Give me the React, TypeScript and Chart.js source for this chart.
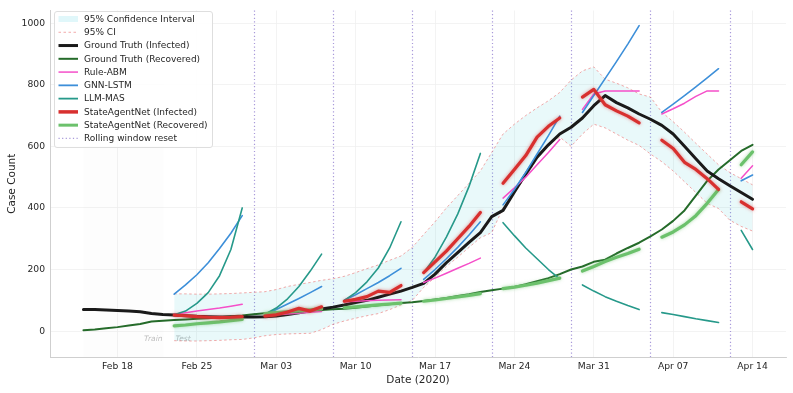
import { useEffect, useRef } from "react";
import { Chart, registerables } from "chart.js";

Chart.register(...registerables);

const FONT = "'DejaVu Sans', 'Liberation Sans', sans-serif";
const TEXT = "#262626";

// Day index 0 = Feb 15, 2020 ... 59 = Apr 14, 2020
const dayCount = 60;
const tickIndex = [3, 10, 17, 24, 31, 38, 45, 52, 59];
const tickLabels = ["Feb 18", "Feb 25", "Mar 03", "Mar 10", "Mar 17", "Mar 24", "Mar 31", "Apr 07", "Apr 14"];
const yTicks = [0, 200, 400, 600, 800, 1000];
const resetIndex = [15, 22, 29, 36, 43, 50, 57];
const windowStart = [8, 16, 23, 30, 37, 44, 51, 58];
const ciStart = 8;
const trainSpanEnd = 7.1;
const splitIndex = 7.5;

const gtInfected = [
  70, 70, 69, 67, 65, 63, 57, 54, 52, 50, 48, 47, 46, 46, 46, 46, 47, 49, 54, 60,
  66, 72, 78, 85, 93, 100, 110, 120, 130, 142, 155, 185, 222, 255, 288, 320, 372, 392, 452, 510,
  565, 605, 640, 662, 692, 732, 765, 742, 725, 705, 688, 668, 640, 600, 560, 520, 495, 472, 450, 428,
];

const gtRecovered = [
  3, 5, 9, 13, 18, 23, 31, 34, 36, 38, 40, 42, 45, 48, 51, 55, 58, 61, 63, 65,
  67, 69, 71, 73, 76, 80, 84, 87, 91, 94, 98, 103, 108, 114, 120, 127, 133, 138, 143, 152,
  162, 172, 185, 200, 210, 225, 232, 252, 270, 287, 308, 330, 358, 392, 440, 488, 525, 555, 585, 605,
];

const sanInfected = [
  [52, 50, 47, 45, 44, 45, 47],
  [49, 53, 62, 74, 65, 79],
  [97, 103, 112, 130, 126, 148],
  [190, 225, 260, 300, 340, 385],
  [480, 525, 570, 630, 665, 692],
  [760, 785, 735, 715, 698, 676],
  [620, 593, 548, 525, 495, 460],
  [420, 397],
];

const sanRecovered = [
  [17, 20, 24, 27, 30, 34, 38],
  [57, 60, 63, 66, 69, 72],
  [76, 79, 82, 85, 88, 91],
  [97, 101, 106, 111, 116, 122],
  [138, 143, 149, 156, 164, 172],
  [195, 210, 226, 240, 252, 266],
  [305, 322, 345, 375, 415, 460],
  [540, 582],
];

const ruleAbm = [
  [55, 60, 65, 70, 75, 81, 87],
  [50, 53, 56, 58, 61, 64],
  [95, 97, 99, 100, 101, 102],
  [158, 172, 188, 204, 220, 237],
  [432, 465, 500, 540, 580, 622],
  [720, 770, 780, 780, 780, 780],
  [705, 722, 740, 762, 780, 780],
  [496, 537],
];

const gnnLstm = [
  [120, 150, 183, 222, 268, 318, 375],
  [52, 70, 88, 106, 125, 145],
  [100, 118, 138, 158, 180, 204],
  [168, 200, 235, 272, 312, 355],
  [410, 460, 515, 575, 635, 698],
  [710, 765, 820, 875, 932, 992],
  [710, 737, 765, 793, 822, 852],
  [488, 507],
];

const llmMas = [
  [53, 65, 90, 125, 180, 265, 400],
  [55, 75, 105, 145, 195, 250],
  [100, 125, 160, 205, 270, 355],
  [190, 240, 305, 380, 470, 577],
  [352, 310, 270, 235, 200, 170],
  [150, 130, 112, 97, 83, 70],
  [60, 54, 47, 40, 34, 28],
  [327, 265],
];

const ciUpper = [
  121, 121, 120, 120, 121, 122, 124, 126, 128, 135, 145, 152, 158, 165, 170, 178, 190, 203, 215, 230,
  244, 272, 314, 355, 400, 440, 480, 520, 580, 640, 672, 700, 725, 748, 775, 815, 845, 858, 818, 805,
  790, 770, 760, 711, 680, 646, 610, 575, 540, 515, 495, 475,
];

const ciLower = [
  -31, -32, -32, -31, -30, -28, -27, -22, -15, -11, -9, -8, -7, 5, 22, 33, 42, 50, 57, 70,
  85, 100, 142, 175, 210, 240, 272, 303, 320, 400, 450, 500, 560, 605, 630, 600, 640, 672, 660, 640,
  620, 603, 575, 550, 520, 485, 450, 415, 398, 360, 340, 325,
];

const COLORS = {
  gtInf: "#1a1a1a",
  gtRec: "#256b2a",
  rule: "#f54fc9",
  gnn: "#3d8fd9",
  llm: "#26998a",
  sanInf: "#d8302f",
  sanRec: "#6cc16c",
  ciFill: "rgba(0, 190, 200, 0.085)",
  ciLine: "rgba(235, 125, 125, 0.65)",
  reset: "rgba(140, 120, 205, 0.75)",
};

const legendItems = [
  { label: "95% Confidence Interval", kind: "fill", color: "rgba(0, 190, 210, 0.12)", width: 0, dash: [] as number[] },
  { label: "95% CI", kind: "line", color: COLORS.ciLine, width: 1, dash: [2.5, 2.5] },
  { label: "Ground Truth (Infected)", kind: "line", color: COLORS.gtInf, width: 3, dash: [] },
  { label: "Ground Truth (Recovered)", kind: "line", color: COLORS.gtRec, width: 2, dash: [] },
  { label: "Rule-ABM", kind: "line", color: COLORS.rule, width: 1.5, dash: [] },
  { label: "GNN-LSTM", kind: "line", color: COLORS.gnn, width: 1.8, dash: [] },
  { label: "LLM-MAS", kind: "line", color: COLORS.llm, width: 1.8, dash: [] },
  { label: "StateAgentNet (Infected)", kind: "line", color: COLORS.sanInf, width: 3.5, dash: [] },
  { label: "StateAgentNet (Recovered)", kind: "line", color: COLORS.sanRec, width: 3, dash: [] },
  { label: "Rolling window reset", kind: "line", color: COLORS.reset, width: 1.2, dash: [1.2, 2.4] },
];

function expand(windows: number[][]) {
  const out: { x: number; y: number | null }[] = [];
  for (let i = 0; i < dayCount; i++) out.push({ x: i, y: null });
  windows.forEach((w, k) => {
    w.forEach((v, j) => {
      out[windowStart[k] + j].y = v;
    });
  });
  return out;
}

function series(values: number[], start = 0) {
  return values.map((v, k) => ({ x: start + k, y: v }));
}

const glowPlugin = {
  id: "glow",
  beforeDatasetDraw(chart: any, args: any) {
    const ds = chart.data.datasets[args.index];
    if (ds.glowColor) {
      chart.ctx.save();
      chart.ctx.shadowColor = ds.glowColor;
      chart.ctx.shadowBlur = 3.5;
    }
  },
  afterDatasetDraw(chart: any, args: any) {
    const ds = chart.data.datasets[args.index];
    if (ds.glowColor) chart.ctx.restore();
  },
};

const decorPlugin = {
  id: "decor",
  beforeDatasetsDraw(chart: any) {
    const { ctx, chartArea, scales } = chart;
    const xs = scales.x;
    const ys = scales.y;
    ctx.save();
    // train span shading (very faint)
    const x0 = xs.getPixelForValue(0);
    const x1 = xs.getPixelForValue(trainSpanEnd);
    ctx.fillStyle = "rgba(0,0,0,0.007)";
    ctx.fillRect(x0, chartArea.top, x1 - x0, chartArea.bottom - chartArea.top);
    // rolling window reset lines
    ctx.strokeStyle = COLORS.reset;
    ctx.lineWidth = 1.2;
    ctx.setLineDash([1.2, 2.4]);
    resetIndex.forEach((i) => {
      const px = Math.round(xs.getPixelForValue(i)) + 0.5;
      ctx.beginPath();
      ctx.moveTo(px, chartArea.top);
      ctx.lineTo(px, chartArea.bottom);
      ctx.stroke();
    });
    ctx.setLineDash([]);
    // Train / Test labels
    ctx.font = `italic 7.5px ${FONT}`;
    ctx.fillStyle = "#bdbdbd";
    ctx.textBaseline = "middle";
    const sx = xs.getPixelForValue(splitIndex);
    const ty = ys.getPixelForValue(-25);
    ctx.textAlign = "right";
    ctx.fillText("Train", sx - 6, ty);
    ctx.textAlign = "left";
    ctx.fillText("Test", sx + 7, ty);
    ctx.restore();
  },
  afterDraw(chart: any) {
    const { ctx, chartArea } = chart;
    ctx.save();
    // axis titles
    ctx.fillStyle = TEXT;
    ctx.font = `10.5px ${FONT}`;
    ctx.textAlign = "center";
    ctx.textBaseline = "middle";
    ctx.fillText("Date (2020)", (chartArea.left + chartArea.right) / 2, 380);
    ctx.save();
    ctx.translate(12, (chartArea.top + chartArea.bottom) / 2);
    ctx.rotate(-Math.PI / 2);
    ctx.fillText("Case Count", 0, 0);
    ctx.restore();

    // legend
    const bx = 54.5, by = 11.5, bw = 158, bh = 136, r = 2.5;
    ctx.beginPath();
    ctx.moveTo(bx + r, by);
    ctx.lineTo(bx + bw - r, by);
    ctx.quadraticCurveTo(bx + bw, by, bx + bw, by + r);
    ctx.lineTo(bx + bw, by + bh - r);
    ctx.quadraticCurveTo(bx + bw, by + bh, bx + bw - r, by + bh);
    ctx.lineTo(bx + r, by + bh);
    ctx.quadraticCurveTo(bx, by + bh, bx, by + bh - r);
    ctx.lineTo(bx, by + r);
    ctx.quadraticCurveTo(bx, by, bx + r, by);
    ctx.closePath();
    ctx.fillStyle = "rgba(255,255,255,0.85)";
    ctx.fill();
    ctx.strokeStyle = "#dedede";
    ctx.lineWidth = 1;
    ctx.stroke();

    ctx.font = `9px ${FONT}`;
    ctx.textAlign = "left";
    ctx.textBaseline = "middle";
    legendItems.forEach((it, k) => {
      const y = 19 + k * 13.27;
      if (it.kind === "fill") {
        ctx.fillStyle = it.color;
        ctx.fillRect(58.5, y - 3, 19.5, 6);
      } else {
        ctx.strokeStyle = it.color;
        ctx.lineWidth = it.width;
        ctx.setLineDash(it.dash);
        ctx.beginPath();
        ctx.moveTo(58.5, y);
        ctx.lineTo(78, y);
        ctx.stroke();
        ctx.setLineDash([]);
      }
      ctx.fillStyle = TEXT;
      ctx.fillText(it.label, 84, y + 0.5);
    });
    ctx.restore();
  },
};

export default function App() {
  const ref = useRef<HTMLCanvasElement | null>(null);

  useEffect(() => {
    if (!ref.current) return;
    const lineDs = (label: string, data: any[], color: string, width: number, order: number, extra: any = {}) => ({
      label,
      data,
      borderColor: color,
      backgroundColor: color,
      borderWidth: width,
      pointRadius: 0,
      pointHoverRadius: 0,
      tension: 0,
      fill: false,
      spanGaps: false,
      order,
      borderJoinStyle: "round",
      borderCapStyle: "round",
      ...extra,
    });

    const chart = new Chart(ref.current, {
      type: "line",
      data: {
        datasets: [
          lineDs("95% Confidence Interval", series(ciUpper, ciStart), COLORS.ciLine, 1, 20, {
            fill: "+1",
            backgroundColor: COLORS.ciFill,
            borderDash: [2.5, 2.5],
            borderCapStyle: "butt",
          }),
          lineDs("95% CI", series(ciLower, ciStart), COLORS.ciLine, 1, 19, {
            borderDash: [2.5, 2.5],
            borderCapStyle: "butt",
          }),
          lineDs("Ground Truth (Infected)", series(gtInfected), COLORS.gtInf, 3, 9),
          lineDs("Ground Truth (Recovered)", series(gtRecovered), COLORS.gtRec, 2, 10),
          lineDs("Rule-ABM", expand(ruleAbm), COLORS.rule, 1.5, 8),
          lineDs("GNN-LSTM", expand(gnnLstm), COLORS.gnn, 1.6, 7),
          lineDs("LLM-MAS", expand(llmMas), COLORS.llm, 1.6, 6),
          lineDs("StateAgentNet (Recovered)", expand(sanRecovered), COLORS.sanRec, 3.2, 2, {
            glowColor: "rgba(100, 190, 100, 0.55)",
          }),
          lineDs("StateAgentNet (Infected)", expand(sanInfected), COLORS.sanInf, 3.2, 1, {
            glowColor: "rgba(215, 50, 50, 0.55)",
          }),
        ] as any,
      },
      options: {
        animation: false,
        responsive: false,
        devicePixelRatio: 1,
        events: [],
        layout: { padding: { left: 0, right: 7, top: 7, bottom: 0 } },
        plugins: {
          legend: { display: false },
          tooltip: { enabled: false },
        },
        scales: {
          x: {
            type: "linear",
            min: -2.95,
            max: 61.95,
            afterBuildTicks: (s: any) => {
              s.ticks = tickIndex.map((v) => ({ value: v }));
            },
            afterFit: (s: any) => {
              s.height = 36;
            },
            ticks: {
              autoSkip: false,
              maxRotation: 0,
              padding: 4,
              color: TEXT,
              font: { family: FONT, size: 9.2 },
              callback: (v: any) => {
                const k = tickIndex.indexOf(Number(v));
                return k >= 0 ? tickLabels[k] : "";
              },
            },
            grid: { color: "#f0f0f0", lineWidth: 0.8, drawTicks: false },
            border: { display: true, color: "#cfcfcf", width: 1 },
          },
          y: {
            type: "linear",
            min: -84,
            max: 1041,
            afterBuildTicks: (s: any) => {
              s.ticks = yTicks.map((v) => ({ value: v }));
            },
            afterFit: (s: any) => {
              s.width = 50;
            },
            ticks: {
              padding: 5,
              color: TEXT,
              font: { family: FONT, size: 9.2 },
              callback: (v: any) => String(v),
            },
            grid: { color: "#f0f0f0", lineWidth: 0.8, drawTicks: false },
            border: { display: true, color: "#cfcfcf", width: 1 },
          },
        },
      } as any,
      plugins: [glowPlugin, decorPlugin] as any,
    });
    return () => chart.destroy();
  }, []);

  return (
    <div style={{ position: "fixed", left: 0, top: 0, width: 793, height: 393, background: "#ffffff" }}>
      <canvas ref={ref} width={793} height={393} style={{ display: "block", width: 793, height: 393 }} />
    </div>
  );
}
